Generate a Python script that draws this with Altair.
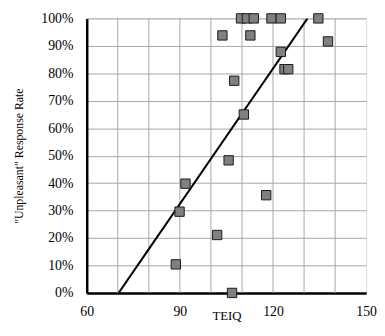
import altair as alt
import pandas as pd

teiq = [109.7, 111.6, 113.8, 119.5, 122.5, 134.6,
        103.7, 112.7, 137.7, 122.5, 123.7, 124.9, 107.5, 110.6, 105.7,
        91.8, 117.8, 89.9, 102.0, 88.7, 106.8]
rate = [1.0, 1.0, 1.0, 1.0, 1.0, 1.0,
        0.938, 0.938, 0.916, 0.878, 0.815, 0.815, 0.773, 0.65, 0.483,
        0.398, 0.356, 0.296, 0.211, 0.104, 0.0]
fit_x = [70.3, 131.1]
fit_y = [0.0, 1.0]
x_grid = [70, 80, 90, 100, 110, 120, 130, 140]
x_labels = [60, 90, 120, 150]
y_ticks = [0, 0.1, 0.2, 0.3, 0.4, 0.5, 0.6, 0.7, 0.8, 0.9, 1.0]

pts = pd.DataFrame({"x": teiq, "y": rate})
fit = pd.DataFrame({"x": fit_x, "y": fit_y})
grid = pd.DataFrame({"x": x_grid})

FONT = "Liberation Serif"

xs = alt.Scale(domain=[60, 150], nice=False, zero=False)
ys = alt.Scale(domain=[0, 1], nice=False)

xaxis = alt.Axis(values=x_labels, grid=False, ticks=False,
                 domain=True, domainColor="black", domainWidth=2.5,
                 labelPadding=12, labelFontSize=14, labelFont=FONT, labelColor="black",
                 labelOverlap=False, labelFlush=False,
                 title="TEIQ", titleFont=FONT, titleFontSize=13, titleFontWeight="normal",
                 titleColor="black", titleX=142, titleY=27,
                 titleBaseline="alphabetic", titleAnchor="middle")
yaxis = alt.Axis(values=y_ticks, format=".0%",
                 grid=True, gridColor="#a6a6a6", gridWidth=1, ticks=False,
                 domain=True, domainColor="black", domainWidth=2.5,
                 labelPadding=14, labelFontSize=14, labelFont=FONT, labelColor="black",
                 labelOverlap=False, labelFlush=False,
                 title='"Unpleasant" Response Rate', titleFont=FONT, titleFontSize=12,
                 titleFontWeight="normal", titleColor="black", titlePadding=16)

gridlines = alt.Chart(grid).mark_rule(color="#a6a6a6", strokeWidth=1).encode(
    x=alt.X("x:Q", scale=xs, axis=xaxis),
)
line = alt.Chart(fit).mark_line(color="black", strokeWidth=2, clip=True).encode(
    x=alt.X("x:Q", scale=xs, axis=xaxis),
    y=alt.Y("y:Q", scale=ys, axis=yaxis),
)
points = alt.Chart(pts).mark_point(shape="square", size=90, filled=True,
                                   fill="#808080", stroke="#1a1a1a", strokeWidth=1,
                                   opacity=1).encode(
    x=alt.X("x:Q", scale=xs, axis=xaxis),
    y=alt.Y("y:Q", scale=ys, axis=yaxis),
)

chart = alt.layer(gridlines, line, points).properties(
    width=284, height=279,
    autosize=alt.AutoSizeParams(type="none"),
    padding={"top": 8, "left": 80, "right": 11, "bottom": 28},
).configure_view(stroke="black", strokeWidth=2).configure(background="white")

chart.save("out.html", embed_options={"renderer": "svg", "actions": False})
